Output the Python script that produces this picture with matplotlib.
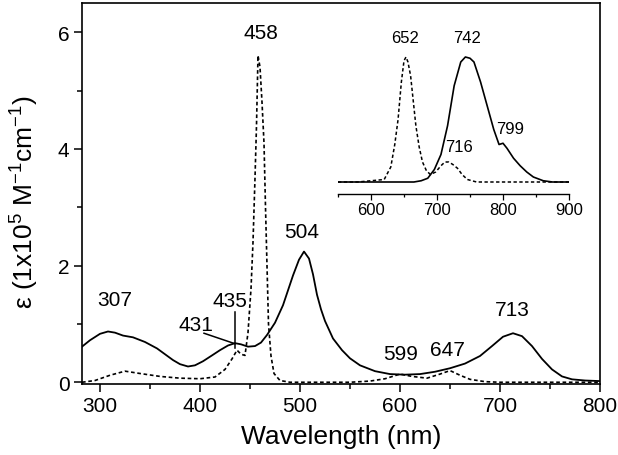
import matplotlib
matplotlib.use("Agg")
import matplotlib.pyplot as plt
from matplotlib.ticker import MultipleLocator

plt.rcParams['font.family'] = ['Liberation Sans', 'DejaVu Sans']
plt.rcParams['mathtext.fontset'] = 'custom'
plt.rcParams['mathtext.rm'] = 'Liberation Sans'
plt.rcParams['mathtext.it'] = 'Liberation Sans:italic'
plt.rcParams['mathtext.default'] = 'regular'

# ---- main spectrum: solid curve ----
solid_x = [282, 290, 300, 308, 315, 323, 333, 345, 357, 365, 373, 380, 388, 395, 403,
           412, 420, 428, 435, 441, 448, 455, 461, 467, 475, 483, 493, 499, 504, 509,
           513, 517, 521, 525, 533, 542, 550, 560, 575, 590, 605, 620, 635, 650, 665,
           680, 692, 703, 713, 722, 732, 742, 752, 762, 772, 785, 800]
solid_y = [0.61, 0.72, 0.83, 0.87, 0.85, 0.80, 0.77, 0.69, 0.58, 0.48, 0.38, 0.31, 0.27, 0.29, 0.36,
           0.46, 0.55, 0.63, 0.67, 0.65, 0.61, 0.62, 0.68, 0.81, 1.02, 1.32, 1.83, 2.10, 2.24, 2.12,
           1.85, 1.50, 1.25, 1.05, 0.75, 0.55, 0.41, 0.29, 0.19, 0.14, 0.13, 0.14, 0.18, 0.24, 0.32,
           0.45, 0.62, 0.78, 0.84, 0.79, 0.62, 0.40, 0.22, 0.10, 0.05, 0.03, 0.02]

# ---- main spectrum: dashed curve ----
dash_x = [282, 295, 310, 325, 340, 360, 380, 400, 415, 425, 432, 437, 441, 445, 448,
          451, 453, 455, 456.5, 458, 460, 462, 464, 465.5, 467, 468.5, 471, 474, 480,
          490, 520, 550, 570, 585, 600, 612, 627, 640, 650, 660, 670, 685, 700, 750, 800]
dash_y = [0.00, 0.03, 0.12, 0.19, 0.15, 0.10, 0.07, 0.06, 0.09, 0.22, 0.40, 0.55, 0.48, 0.46, 0.85,
          1.60, 2.40, 3.50, 4.40, 5.60, 5.40, 4.80, 4.10, 3.00, 2.00, 1.00, 0.45, 0.15, 0.03,
          0.00, 0.00, 0.00, 0.02, 0.06, 0.14, 0.10, 0.07, 0.14, 0.20, 0.12, 0.05, 0.01, 0.00, 0.00, 0.00]

# ---- inset: solid curve ----
ins_solid_x = [550, 600, 650, 665, 676, 686, 696, 706, 716, 726, 736, 743, 750, 756, 766,
               776, 786, 794, 800, 806, 816, 826, 836, 846, 861, 875, 900]
ins_solid_y = [0.0, 0.0, 0.0, 0.0, 0.01, 0.03, 0.10, 0.22, 0.45, 0.77, 0.96, 1.0, 0.99, 0.96, 0.80,
               0.61, 0.42, 0.30, 0.31, 0.27, 0.19, 0.13, 0.08, 0.04, 0.01, 0.0, 0.0]

# ---- inset: dashed curve ----
ins_dash_x = [550, 580, 600, 620, 630, 636, 641, 646, 650, 653, 656, 660, 664, 668, 673,
              678, 684, 690, 698, 706, 712, 718, 724, 731, 738, 746, 760, 900]
ins_dash_y = [0.0, 0.0, 0.01, 0.02, 0.12, 0.30, 0.50, 0.80, 0.97, 1.0, 0.96, 0.85, 0.65, 0.45, 0.28,
              0.16, 0.09, 0.06, 0.08, 0.13, 0.16, 0.16, 0.14, 0.11, 0.06, 0.02, 0.0, 0.0]

# ---- peak labels ----
main_labels = ['458', '504', '307', '431', '435', '599', '647', '713']
main_label_x = [461, 502, 315, 396, 430, 601, 647, 712]
main_label_y = [5.99, 2.58, 1.41, 0.99, 1.40, 0.49, 0.56, 1.25]

inset_labels = ['652', '742', '799', '716']
inset_label_x = [651, 745, 811, 733]
inset_label_y = [1.16, 1.16, 0.43, 0.28]

x_ticks = [300, 400, 500, 600, 700, 800]
y_ticks = [0, 2, 4, 6]
inset_ticks = [600, 700, 800, 900]

fig = plt.figure(figsize=(6.18, 4.56), dpi=100)
ax = fig.add_axes([82/618, 1-385/456, 518/618, 381/456])

dash_style = (0, (2.2, 1.6))
ax.plot(solid_x, solid_y, color='black', lw=1.3, solid_joinstyle='round')
ax.plot(dash_x, dash_y, color='black', lw=1.2, linestyle=dash_style)

ax.set_xlim(282, 800)
ax.set_ylim(-0.03, 6.5)
ax.set_xticks(x_ticks)
ax.set_yticks(y_ticks)
ax.xaxis.set_minor_locator(MultipleLocator(50))
ax.yaxis.set_minor_locator(MultipleLocator(1))
ax.tick_params(which='major', direction='out', length=6, width=1.1, labelsize=15, pad=3)
ax.tick_params(which='minor', direction='out', length=3.5, width=1.1)
for s in ax.spines.values():
    s.set_linewidth(1.2)

ax.set_xlabel('Wavelength (nm)', fontsize=19)
ax.xaxis.set_label_coords(0.5, -0.105)
ax.set_ylabel(r'ε (1x10$^{5}$ M$^{-1}$cm$^{-1}$)', fontsize=19)
ax.yaxis.set_label_coords(-0.08, 0.48)

for t, x, y in zip(main_labels, main_label_x, main_label_y):
    ax.text(x, y, t, fontsize=15, ha='center', va='center')

# annotation lines for 431 and 435
ax.plot([404, 435], [0.84, 0.66], color='black', lw=1.1)
ax.plot([435, 435], [1.21, 0.58], color='black', lw=1.1)

# ---- inset ----
iax = fig.add_axes([338/618, 1-195/456, 231/618, 145/456])
iax.patch.set_alpha(0)
iax.plot(ins_solid_x, ins_solid_y, color='black', lw=1.2)
iax.plot(ins_dash_x, ins_dash_y, color='black', lw=1.1, linestyle=dash_style)
iax.set_xlim(550, 900)
iax.set_ylim(-0.096, 1.064)
for side in ['top', 'right', 'left']:
    iax.spines[side].set_visible(False)
iax.spines['bottom'].set_linewidth(1.0)
iax.set_yticks([])
iax.set_xticks(inset_ticks)
iax.xaxis.set_minor_locator(MultipleLocator(50))
iax.tick_params(which='major', direction='out', length=4, width=0.9, labelsize=12, pad=2)
iax.tick_params(which='minor', direction='out', length=2.5, width=0.9)
for t, x, y in zip(inset_labels, inset_label_x, inset_label_y):
    iax.text(x, y, t, fontsize=12, ha='center', va='center', clip_on=False)

fig.savefig('out.png', dpi=100)
